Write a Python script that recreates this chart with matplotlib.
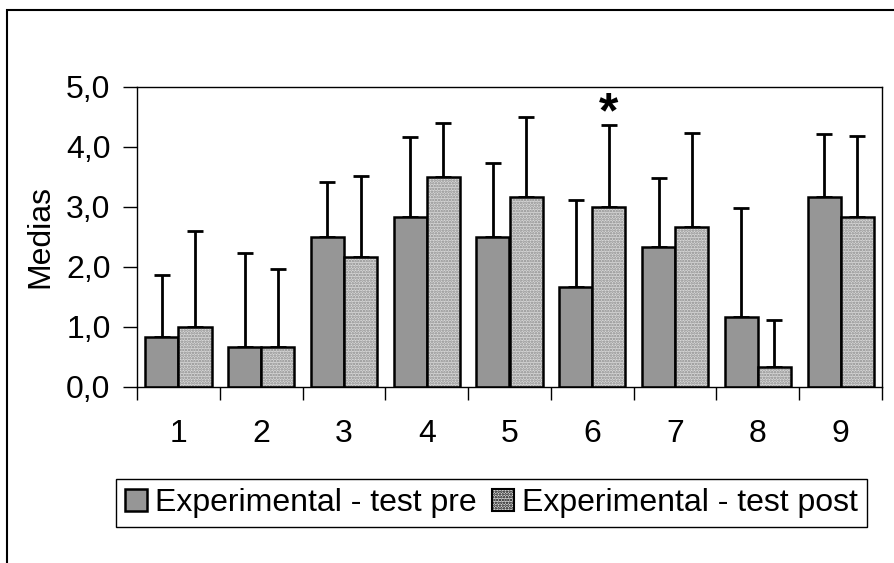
import matplotlib
matplotlib.use('Agg')
import matplotlib.pyplot as plt
from matplotlib.patches import Rectangle
from matplotlib.ticker import FixedLocator, FuncFormatter
import numpy as np

plt.rcParams['font.family'] = ['Liberation Sans', 'DejaVu Sans']
plt.rcParams['hatch.linewidth'] = 1.2

#
# data
#
categories = ['1', '2', '3', '4', '5', '6', '7', '8', '9']
means_pre = [0.83, 0.67, 2.50, 2.83, 2.50, 1.67, 2.33, 1.17, 3.17]
means_post = [1.00, 0.67, 2.17, 3.50, 3.17, 3.00, 2.67, 0.33, 2.83]
sd_pre = [1.04, 1.56, 0.92, 1.34, 1.23, 1.45, 1.16, 1.81, 1.05]
sd_post = [1.60, 1.30, 1.34, 0.90, 1.33, 1.37, 1.56, 0.78, 1.35]
labels = ['Experimental - test pre', 'Experimental - test post']
star_group = 5
ylabel = 'Medias'

W, H = 894, 563
fig = plt.figure(figsize=(W / 100, H / 100), dpi=100)
ax = fig.add_axes([137 / W, 1 - 387 / H, (882 - 137) / W, 300 / H])

x = np.arange(len(categories))
width = 0.4
fs = 23
post_face = '#d8d8d8'
post_hatch = '#8a8a8a'
#
# bars: pre solid gray, post dotted light gray
#
ax.bar(x - width / 2, means_pre, width, color='#969696',
       edgecolor='black', linewidth=1.8, zorder=2, label=labels[0])
ax.bar(x + width / 2, means_post, width, color=post_face,
       edgecolor=post_hatch, linewidth=0, hatch='......', zorder=2)
ax.bar(x + width / 2, means_post, width, fill=False,
       edgecolor='black', linewidth=1.8, zorder=3)
# legend proxy for post
post_proxy = Rectangle((0, 0), 1, 1, facecolor=post_face,
                       edgecolor='black', hatch='......', linewidth=1.5)
#
# upper error bars only
#
for off, means, sd in [(-width / 2, means_pre, sd_pre),
                       (width / 2, means_post, sd_post)]:
    ax.errorbar(x + off, means, yerr=[np.zeros(len(x)), sd], fmt='none',
                ecolor='black', elinewidth=2, capsize=6, capthick=2,
                zorder=1)
ax.annotate('*', xy=(star_group + width / 2,
                     means_post[star_group] + sd_post[star_group]),
            xytext=(0, -9), textcoords='offset points',
            fontsize=36, fontweight='bold', ha='center', va='bottom')

ax.set_xlim(-0.5, len(x) - 0.5)
ax.set_ylim(0, 5)
ax.set_yticks(np.arange(0, 5.1, 1.0))
ax.yaxis.set_major_formatter(
    FuncFormatter(lambda v, p: '{0:.1f}'.format(v).replace('.', ',')))
ax.tick_params(axis='y', direction='out', length=10, width=1,
               labelsize=fs, pad=9)
# category boundaries as ticks, labels on minor ticks
ax.xaxis.set_major_locator(FixedLocator(np.arange(-0.5, len(x), 1.0)))
ax.xaxis.set_major_formatter(FuncFormatter(lambda v, p: ''))
ax.xaxis.set_minor_locator(FixedLocator(x))
ax.set_xticklabels(categories, minor=True)
ax.tick_params(axis='x', which='major', direction='out', length=9, width=1)
ax.tick_params(axis='x', which='minor', length=0, labelsize=fs, pad=23)
for s in ax.spines.values():
    s.set_linewidth(1)
    s.set_color('black')

ax.set_ylabel(ylabel, fontsize=fs)
ax.yaxis.set_label_coords((55 - 137) / (882 - 137), 0.5)

handles = [ax.patches[0], post_proxy]
leg = fig.legend(handles, labels, loc='center',
                 bbox_to_anchor=(491.5 / W, 1 - 503 / H), ncol=2,
                 fontsize=23, frameon=True, fancybox=False, shadow=False,
                 framealpha=1, edgecolor='black', handlelength=0.68,
                 handleheight=0.68, handletextpad=0.25, columnspacing=0.5,
                 borderpad=0.28, borderaxespad=0)
leg.get_frame().set_linewidth(1)

# outer chart border (cut off at right and bottom)
fig.patches.append(Rectangle((7 / W, -0.1), 1.0, 1.1 - 10 / H,
                             transform=fig.transFigure, fill=False,
                             edgecolor='black', linewidth=1.5))

fig.savefig('out.png', dpi=100)
